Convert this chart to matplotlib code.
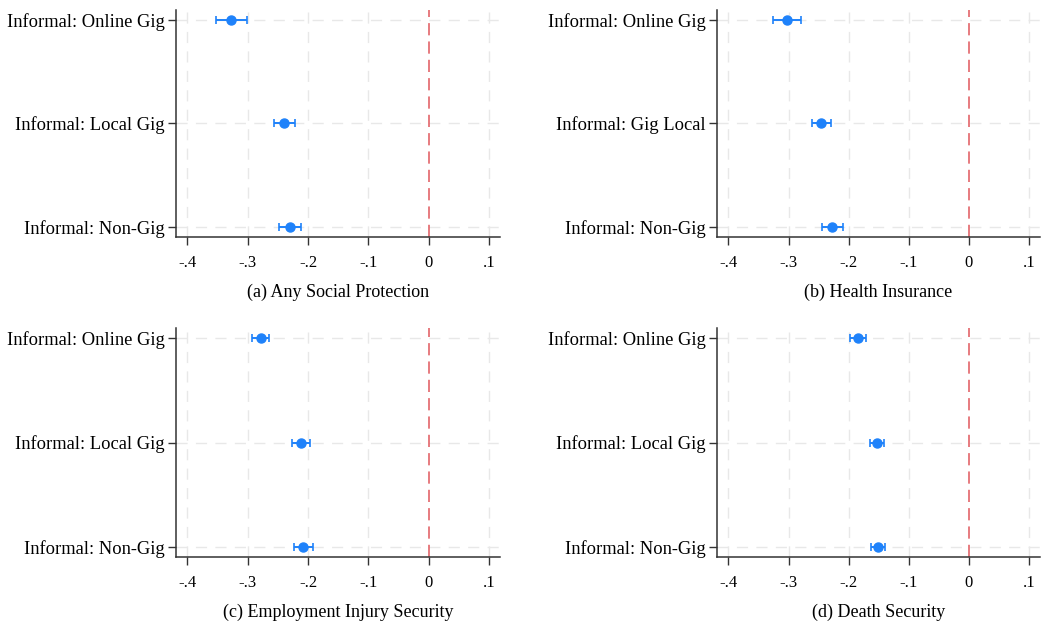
import numpy as np
import matplotlib.pyplot as plt

plt.rcParams['font.family'] = ['Liberation Serif', 'DejaVu Serif']

# data (point estimate, lower CI, upper CI)
titles = ["(a) Any Social Protection", "(b) Health Insurance",
          "(c) Employment Injury Security", "(d) Death Security"]
labels_a = ["Informal: Online Gig", "Informal: Local Gig", "Informal: Non-Gig"]
labels_b = ["Informal: Online Gig", "Informal: Gig Local", "Informal: Non-Gig"]

coef_a = [-0.328, -0.240, -0.230]
lo_a = [-0.353, -0.257, -0.248]
hi_a = [-0.302, -0.222, -0.212]

coef_b = [-0.302, -0.246, -0.227]
lo_b = [-0.326, -0.261, -0.244]
hi_b = [-0.279, -0.229, -0.210]

coef_c = [-0.278, -0.212, -0.208]
lo_c = [-0.293, -0.226, -0.223]
hi_c = [-0.265, -0.197, -0.192]

coef_d = [-0.185, -0.153, -0.151]
lo_d = [-0.198, -0.165, -0.163]
hi_d = [-0.171, -0.142, -0.139]

xticks = [-0.4, -0.3, -0.2, -0.1, 0, 0.1]
xtick_labels = ["-.4", "-.3", "-.2", "-.1", "0", ".1"]

panels = [
    (labels_a, coef_a, lo_a, hi_a),
    (labels_b, coef_b, lo_b, hi_b),
    (labels_a, coef_c, lo_c, hi_c),
    (labels_a, coef_d, lo_d, hi_d),
]

# axes rectangles in figure fractions
rects = [
    [0.1687, 0.6196, 0.3106, 0.3644],
    [0.6874, 0.6196, 0.3097, 0.3644],
    [0.1687, 0.1059, 0.3106, 0.3676],
    [0.6874, 0.1059, 0.3097, 0.3676],
]

fig = plt.figure(figsize=(10.43, 6.23), dpi=100)
dot_color = "#1f82fa"
grid_color = "#e8e8e8"

for i, (labels, coef, lo, hi) in enumerate(panels):
    ax = fig.add_axes(rects[i])
    y = np.arange(len(labels))
    coef = np.array(coef)
    err = [coef - np.array(lo), np.array(hi) - coef]

    for yy in y:
        ax.axhline(yy, color=grid_color, lw=1, ls=(0, (8, 6)), zorder=0)
    for xx in xticks:
        if xx != 0:
            ax.axvline(xx, color=grid_color, lw=1, ls=(0, (8, 6)), zorder=0)
    ax.axvline(0, color="#e0575c", lw=1.1, ls=(0, (8, 4)), zorder=1)

    ax.errorbar(coef, y, xerr=err, fmt="o", color=dot_color, ms=6.5,
                elinewidth=1.4, capsize=3, capthick=1.2, zorder=3)

    ax.set_xlim(-0.419, 0.118)
    ax.set_ylim(2.1, -0.1)
    ax.set_yticks(y)
    ax.set_yticklabels(labels, fontsize=13.3)
    ax.set_xticks(xticks)
    ax.set_xticklabels(xtick_labels, fontsize=12)
    ax.set_xlabel(titles[i], fontsize=13, labelpad=9)

    for s in ["top", "right"]:
        ax.spines[s].set_visible(False)
    for s in ["left", "bottom"]:
        ax.spines[s].set_color("#333333")
        ax.spines[s].set_linewidth(1.1)
    ax.tick_params(axis="both", length=6, width=1, color="#333333")
    ax.tick_params(axis="y", pad=2)
    ax.tick_params(axis="x", pad=7)

fig.savefig("out.png", dpi=100, facecolor="white")
